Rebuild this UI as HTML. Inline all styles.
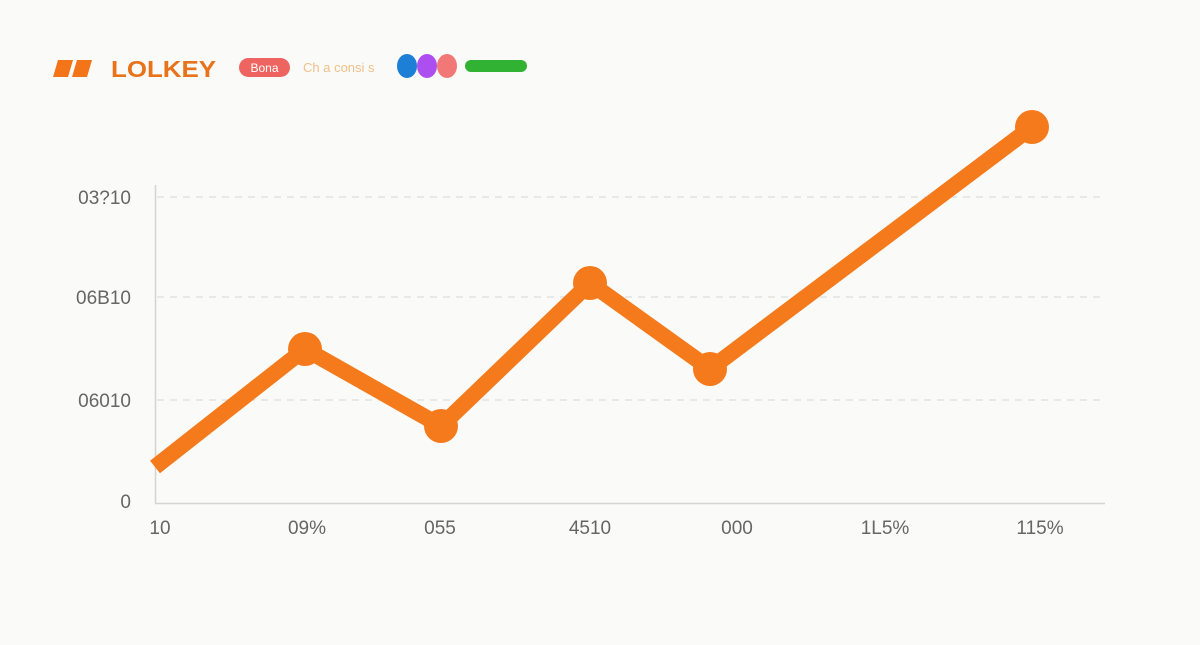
<!DOCTYPE html>
<html><head><meta charset="utf-8"><style>
body{margin:0;background:#fafaf8;width:1200px;height:640px;overflow:hidden;font-family:"Liberation Sans",sans-serif}
</style></head><body>
<svg width="1200" height="640" xmlns="http://www.w3.org/2000/svg">
<rect width="1200" height="640" fill="#fafaf8"/>
<g fill="#f47518">
<path d="M58 60 H73 L68 77 H53 Z"/><path d="M77 60 H92 L87 77 H72 Z"/>
</g>
<text x="111" y="77" font-size="23" font-weight="bold" fill="#e8731a" textLength="105" lengthAdjust="spacingAndGlyphs">LOLKEY</text>
<rect x="239" y="58" width="51" height="19" rx="9.5" fill="#ee6460"/>
<text x="264.5" y="72" font-size="12" fill="#fff" text-anchor="middle">Bona</text>
<text x="303" y="72" font-size="13" fill="#f1c08a">Ch a  consi s</text>
<ellipse cx="407" cy="66" rx="10" ry="12" fill="#1d7fd6"/>
<ellipse cx="427" cy="66" rx="10" ry="12" fill="#ad4ff0"/>
<ellipse cx="447" cy="66" rx="10" ry="12" fill="#f27878"/>
<rect x="465" y="60" width="62" height="12" rx="6" fill="#31b232"/>
<g stroke="#ddd" stroke-width="1.2" stroke-dasharray="7 6">
<line x1="157" y1="197" x2="1105" y2="197"/>
<line x1="157" y1="297" x2="1105" y2="297"/>
<line x1="157" y1="400" x2="1105" y2="400"/>
</g>
<line x1="155.5" y1="185" x2="155.5" y2="503" stroke="#d4d4d4" stroke-width="1.5"/>
<line x1="155" y1="503.5" x2="1105" y2="503.5" stroke="#d4d4d4" stroke-width="1.5"/>
<g font-size="19" fill="#666" text-anchor="end">
<text x="131" y="204">03?10</text>
<text x="131" y="304">06B10</text>
<text x="131" y="407">06010</text>
<text x="131" y="508">0</text>
</g>
<g font-size="19" fill="#666" text-anchor="middle">
<text x="160" y="534">10</text>
<text x="307" y="534">09%</text>
<text x="440" y="534">055</text>
<text x="590" y="534">4510</text>
<text x="737" y="534">000</text>
<text x="885" y="534">1L5%</text>
<text x="1040" y="534">115%</text>
</g>
<polyline points="155,467 305,349 441,426 590,283 710,369 1032,127" fill="none" stroke="#f47a1c" stroke-width="16" stroke-linejoin="round"/>
<g fill="#f47a1c">
<circle cx="305" cy="349" r="17"/><circle cx="441" cy="426" r="17"/>
<circle cx="590" cy="283" r="17"/><circle cx="710" cy="369" r="17"/>
<circle cx="1032" cy="127" r="17"/>
</g>
</svg>
</body></html>
